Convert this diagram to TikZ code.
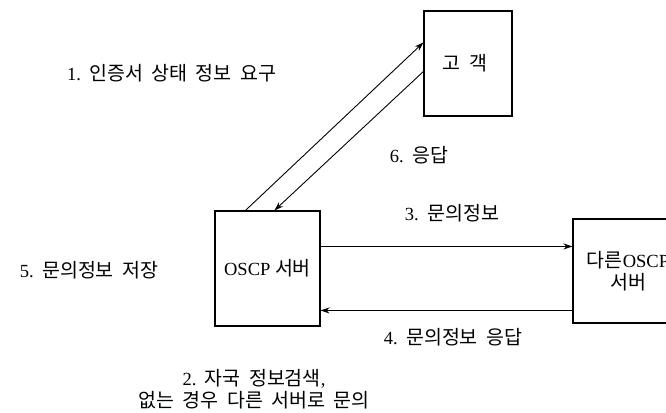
\documentclass[tikz,border=0pt]{standalone}
\usepackage{fontspec}
\setmainfont[Scale=0.95]{Liberation Serif}
\newfontfamily\kr{Noto Sans CJK KR}
\newcommand\K{\kr\fontdimen2\font=8.4pt\relax}
\usetikzlibrary{arrows.meta,calc}
\begin{document}
\begin{tikzpicture}[x=1pt,y=-1pt,
  box/.style={draw, line width=1.1pt, inner sep=0pt},
  lbl/.style={font=\fontsize{19.5}{22}\selectfont, inner sep=0pt, align=center},
  arr/.style={-{Stealth[length=9pt,width=6pt]}, line width=0.9pt}]
\useasboundingbox (0,0) rectangle (666,412);
\clip (0,0) rectangle (666,412);
\fill[white] (0,0) rectangle (666,412);
% boxes
\node[box, minimum width=88pt, minimum height=105pt] (cust) at (468,63.5) {};
\node[lbl] (custtxt) at (465,63) {\K 고 객};
\node[box, lbl, minimum width=105pt, minimum height=115pt] (oscp) at (267.5,268.5) {OSCP {\K 서버}};
\node[box, lbl, minimum width=110pt, minimum height=104pt] (other) at (628,271) {{\K 다른}OSCP\\{\K 서버}};
% connectors
\coordinate (a1s) at ($(oscp.north west)+(31,0)$);
\coordinate (a1e) at ($(cust.north west)+(0,32)$);
\coordinate (a6s) at ($(cust.north west)+(0,61)$);
\coordinate (a6e) at ($(oscp.north west)+(60,0)$);
\draw[arr] (a1s) -- (a1e);
\draw[arr] (a6s) -- (a6e);
\coordinate (a3s) at ($(oscp.north east)+(0,36)$);
\coordinate (a4e) at ($(oscp.north east)+(0,100)$);
\draw[arr] (a3s) -- (a3s -| other.west);
\draw[arr] (a4e -| other.west) -- (a4e);
% labels
\node[lbl] (l1) at (171.5,73) {1.{\K\ 인증서 상태 정보 요구}};
\node[lbl] (l6) at (419,155) {6.{\K\ 응답}};
\node[lbl] (l3) at (452,213) {3.{\K\ 문의정보}};
\node[lbl] (l5) at (89,270) {5.{\K\ 문의정보 저장}};
\node[lbl] (l4) at (453,337) {4.{\K\ 문의정보 응답}};
\node[lbl] (l2) at (254,389) {2.{\K\ 자국 정보검색},\\{\K 없는 경우 다른 서버로 문의}};
\end{tikzpicture}
\end{document}
